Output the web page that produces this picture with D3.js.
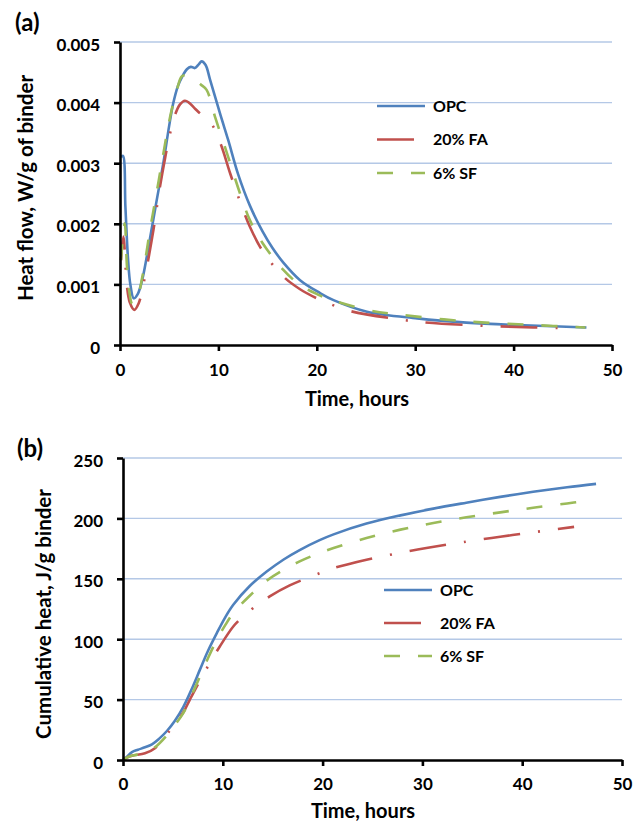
<!DOCTYPE html>
<html>
<head>
<meta charset="utf-8">
<script src="https://cdn.jsdelivr.net/npm/d3@7"></script>
<style>
  body { margin: 0; background: #ffffff; }
  svg { display: block; font-family: Lato, "Open Sans", sans-serif; font-weight: 700; }
</style>
</head>
<body>
<script>
// ---------- DATA ----------
const seriesNames = ["OPC", "20% FA", "6% SF"];

// (a) Heat flow, W/g of binder (values in W/g)
const opcFlowT = [0.1, 0.3, 0.55, 0.8, 1.05, 1.4, 1.8, 2.25, 2.9, 3.6, 4.4, 5.0, 5.4, 5.9, 6.3, 6.8, 7.2, 7.6, 8.0, 8.3, 8.7, 9.15, 10.2, 11.0, 12.0, 13.2, 14.5, 15.5, 16.6, 18.3, 20.3, 21.7, 25.1, 30.2, 35.2, 40.3, 44.0, 47.4];
const opcFlow  = [0.00310, 0.00312, 0.00228, 0.00146, 0.00100, 0.00077, 0.00084, 0.00107, 0.00162, 0.00227, 0.00300, 0.00362, 0.00398, 0.00428, 0.00442, 0.00455, 0.00459, 0.00457, 0.00463, 0.00468, 0.00462, 0.00438, 0.00380, 0.00338, 0.00282, 0.00230, 0.00187, 0.00160, 0.00136, 0.00107, 0.00086, 0.00074, 0.00055, 0.00044, 0.00037, 0.00033, 0.00031, 0.00029];

const faFlowT = [0.1, 0.35, 0.7, 1.0, 1.45, 1.9, 2.5, 3.4, 4.0, 4.6, 5.1, 5.6, 6.1, 6.6, 7.0, 7.5, 8.0, 9.25, 10.2, 11.2, 11.9, 13.2, 14.5, 16.6, 18.3, 20.0, 21.0, 23.4, 28.5, 30.5, 35.2, 42.0, 45.8];
const faFlow  = [0.00140, 0.00179, 0.00098, 0.00070, 0.00058, 0.00069, 0.00110, 0.00190, 0.00255, 0.00310, 0.00350, 0.00380, 0.00397, 0.00403, 0.00400, 0.00392, 0.00384, 0.00366, 0.00333, 0.00283, 0.00250, 0.00195, 0.00155, 0.00113, 0.00092, 0.00077, 0.00070, 0.00056, 0.00042, 0.00038, 0.00033, 0.00029, 0.00028];

const sfFlowT = [0.1, 0.48, 0.71, 0.95, 1.25, 1.7, 2.3, 3.05, 3.6, 4.24, 4.8, 5.25, 5.8, 6.27, 6.8, 7.1, 7.6, 8.2, 8.8, 9.65, 11.0, 12.2, 13.2, 14.5, 16.6, 18.3, 20.3, 21.0, 25.1, 28.5, 35.2, 42.0, 47.3];
const sfFlow  = [0.00140, 0.00201, 0.00129, 0.00088, 0.00068, 0.00075, 0.00115, 0.00190, 0.00240, 0.00300, 0.00352, 0.00388, 0.00422, 0.00443, 0.00445, 0.00442, 0.00438, 0.00430, 0.00421, 0.00377, 0.00310, 0.00250, 0.00206, 0.00168, 0.00124, 0.00099, 0.00082, 0.00077, 0.00058, 0.00050, 0.00039, 0.00033, 0.00029];

// (b) Cumulative heat, J/g binder
const opcCumT = [0, 0.23, 0.9, 1.5, 2.2, 2.9, 3.6, 4.4, 5.2, 6.05, 6.9, 7.7, 8.5, 9.4, 10.2, 11.05, 12.7, 14.4, 16.1, 17.7, 19.7, 21.1, 24.4, 27.8, 31.1, 34.4, 37.8, 41.1, 44.5, 47.4];
const opcCum  = [0, 1.4, 6.5, 8.5, 10.5, 13, 17.5, 24, 32.5, 44, 59, 74.6, 90, 105, 117.5, 128.5, 144, 156, 166, 173.8, 182, 186.8, 195.7, 202.5, 208.1, 213, 217.8, 222, 225.8, 228.6];

const faCumT = [0, 0.5, 1.0, 2.2, 3.2, 4.6, 5.3, 6.05, 6.7, 7.4, 8.5, 9.7, 11.05, 12.0, 13.05, 14.7, 16.7, 19.3, 21.1, 24.4, 28.4, 30.4, 34.4, 37.8, 41.1, 45.2];
const faCum  = [0, 2.5, 3.8, 5.5, 9.7, 23.5, 31, 39.5, 50, 61, 77.4, 94, 110.5, 118.5, 125.8, 135.4, 144.5, 153.4, 158.8, 165.8, 172.5, 175.5, 180.8, 184.8, 188.5, 193];

const sfCumT = [0, 0.5, 1.0, 2.2, 3.2, 4.4, 5.2, 6.05, 6.9, 7.7, 8.5, 9.4, 10.2, 11.05, 12.7, 14.4, 16.1, 17.7, 19.7, 21.1, 24.4, 27.8, 31.1, 34.4, 37.8, 41.1, 44.5, 46.4];
const sfCum  = [0, 2.5, 3.8, 5.8, 10.5, 20.5, 29, 39, 54, 69, 84, 99.5, 111, 121.6, 136, 148.5, 157.5, 164.4, 171.4, 175.5, 183.8, 190.7, 196.2, 200.9, 205, 208.8, 212.4, 214.4];

const xTicks = [0, 10, 20, 30, 40, 50];
const flowTicks = [0, 0.001, 0.002, 0.003, 0.004, 0.005];
const cumTicks = [0, 50, 100, 150, 200, 250];

// ---------- STYLE ----------
const colors = ["#4f81bd", "#c0504d", "#9bbb59"];
const dashes = [null, "37,18,2,18", "16,18"];
const gridColor = "#b4c8e6";

const svg = d3.select("body").append("svg").attr("width", 644).attr("height", 827);

function panel(o) {
  const x = d3.scaleLinear().domain([0, 50]).range(o.xr);
  const y = d3.scaleLinear().domain(o.yd).range(o.yr);
  const g = svg.append("g");

  // gridlines
  g.selectAll(".grid").data(o.yTicks.filter(d => d !== 0)).join("line")
    .attr("x1", x(0)).attr("x2", x(50))
    .attr("y1", d => y(d)).attr("y2", d => y(d))
    .attr("stroke", gridColor).attr("stroke-width", 1.4);

  // lines
  const line = d3.line().x(d => x(d[0])).y(d => y(d[1])).curve(d3.curveCatmullRom.alpha(0.5));
  o.series.forEach((s, i) => {
    const pts = s.t.map((t, k) => [t, s.v[k]]);
    g.append("path").datum(pts).attr("d", line)
      .attr("fill", "none").attr("stroke", colors[i]).attr("stroke-width", 2.6)
      .attr("stroke-dasharray", dashes[i]);
  });

  // axes
  const ax = g.append("g").attr("transform", `translate(0,${y(0)})`)
    .call(d3.axisBottom(x).tickValues(xTicks).tickSize(6).tickSizeOuter(0).tickPadding(o.xPad).tickFormat(d3.format("d")));
  const ay = g.append("g").attr("transform", `translate(${x(0)},0)`)
    .call(d3.axisLeft(y).tickValues(o.yTicks).tickSize(6).tickSizeOuter(0).tickPadding(14).tickFormat(o.fmt));
  [ax, ay].forEach(a => {
    a.select(".domain").attr("stroke", "#000").attr("stroke-width", 2.6);
    a.selectAll(".tick line").attr("stroke", "#000").attr("stroke-width", 2.6);
    a.selectAll("text").attr("fill", "#000").attr("font-size", 17).attr("font-family", "Lato, 'Open Sans', sans-serif").attr("font-weight", 700);
  });
  ay.selectAll("text").attr("dy", "0.48em");

  // titles
  g.append("text").attr("x", o.xt[0]).attr("y", o.xt[1]).attr("text-anchor", "middle")
    .attr("font-size", 20).text("Time, hours");
  g.append("text").attr("transform", `translate(${o.yt[0]},${o.yt[1]}) rotate(-90)`)
    .attr("text-anchor", "middle").attr("font-size", o.ytSize).text(o.yTitle);
  g.append("text").attr("x", o.lab[0]).attr("y", o.lab[1]).attr("font-size", 24).text(o.label);

  // legend
  seriesNames.forEach((n, i) => {
    const ly = o.leg[1] + i * o.leg[2];
    g.append("line").attr("x1", o.leg[0]).attr("x2", o.leg[0] + 48).attr("y1", ly).attr("y2", ly)
      .attr("stroke", colors[i]).attr("stroke-width", 2.6).attr("stroke-dasharray", dashes[i]);
    g.append("text").attr("x", o.leg[0] + 56).attr("y", ly).attr("dy", "0.36em")
      .attr("font-size", 16).text(n);
  });
}

panel({
  xr: [120, 612], yd: [0, 0.005], yr: [345, 42], yTicks: flowTicks,
  fmt: d => d === 0 ? "0" : d3.format(".3f")(d), xPad: 13,
  series: [{t: opcFlowT, v: opcFlow}, {t: faFlowT, v: faFlow}, {t: sfFlowT, v: sfFlow}],
  xt: [357, 406], yt: [33, 188], ytSize: 20.5, yTitle: "Heat flow, W/g of binder",
  lab: [15, 31], label: "(a)", leg: [377, 106, 33.5]
});

panel({
  xr: [123, 622], yd: [0, 250], yr: [760, 458], yTicks: cumTicks,
  fmt: d3.format("d"), xPad: 12,
  series: [{t: opcCumT, v: opcCum}, {t: faCumT, v: faCum}, {t: sfCumT, v: sfCum}],
  xt: [363, 818], yt: [51, 614], ytSize: 20.5, yTitle: "Cumulative heat, J/g binder",
  lab: [17, 457], label: "(b)", leg: [384, 590, 33]
});
</script>
</body>
</html>
